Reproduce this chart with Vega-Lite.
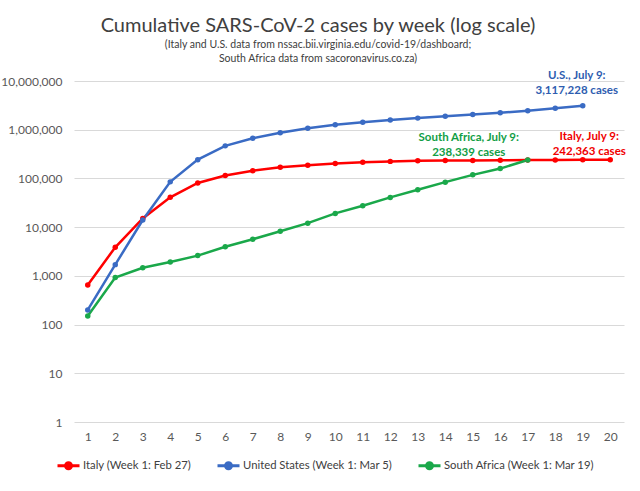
{
  "$schema": "https://vega.github.io/schema/vega-lite/v6.json",
  "autosize": "none",
  "width": 550,
  "height": 341,
  "padding": {"left": 74, "top": 81, "right": 16, "bottom": 69},
  "background": "white",
  "title": {
    "text": "Cumulative SARS-CoV-2 cases by week (log scale)",
    "subtitle": ["(Italy and U.S. data from nssac.bii.virginia.edu/covid-19/dashboard;", "South Africa data from sacoronavirus.co.za)"],
    "anchor": "middle",
    "frame": "group",
    "dx": -31,
    "offset": 5,
    "font": "Lato",
    "fontSize": 20,
    "fontWeight": "normal",
    "color": "#404040",
    "subtitleFont": "Lato",
    "subtitleFontSize": 10.5,
    "subtitleColor": "#404040",
    "subtitlePadding": 4,
    "subtitleLineHeight": 14
  },
  "config": {
    "view": {"stroke": null},
    "axis": {"labelFont": "Lato", "labelColor": "#595959", "labelFontSize": 12}
  },
  "datasets": {
    "cases": [
      {"country": "Italy", "week": 1, "cases": 650},
      {"country": "Italy", "week": 2, "cases": 3858},
      {"country": "Italy", "week": 3, "cases": 15113},
      {"country": "Italy", "week": 4, "cases": 41035},
      {"country": "Italy", "week": 5, "cases": 80539},
      {"country": "Italy", "week": 6, "cases": 115242},
      {"country": "Italy", "week": 7, "cases": 143626},
      {"country": "Italy", "week": 8, "cases": 168941},
      {"country": "Italy", "week": 9, "cases": 187327},
      {"country": "Italy", "week": 10, "cases": 201505},
      {"country": "Italy", "week": 11, "cases": 215858},
      {"country": "Italy", "week": 12, "cases": 223885},
      {"country": "Italy", "week": 13, "cases": 229858},
      {"country": "Italy", "week": 14, "cases": 232664},
      {"country": "Italy", "week": 15, "cases": 234531},
      {"country": "Italy", "week": 16, "cases": 236305},
      {"country": "Italy", "week": 17, "cases": 238011},
      {"country": "Italy", "week": 18, "cases": 239410},
      {"country": "Italy", "week": 19, "cases": 240961},
      {"country": "Italy", "week": 20, "cases": 242363},
      {"country": "United States", "week": 1, "cases": 200},
      {"country": "United States", "week": 2, "cases": 1700},
      {"country": "United States", "week": 3, "cases": 14000},
      {"country": "United States", "week": 4, "cases": 85000},
      {"country": "United States", "week": 5, "cases": 243000},
      {"country": "United States", "week": 6, "cases": 466000},
      {"country": "United States", "week": 7, "cases": 667000},
      {"country": "United States", "week": 8, "cases": 870000},
      {"country": "United States", "week": 9, "cases": 1070000},
      {"country": "United States", "week": 10, "cases": 1260000},
      {"country": "United States", "week": 11, "cases": 1430000},
      {"country": "United States", "week": 12, "cases": 1580000},
      {"country": "United States", "week": 13, "cases": 1730000},
      {"country": "United States", "week": 14, "cases": 1880000},
      {"country": "United States", "week": 15, "cases": 2050000},
      {"country": "United States", "week": 16, "cases": 2220000},
      {"country": "United States", "week": 17, "cases": 2460000},
      {"country": "United States", "week": 18, "cases": 2760000},
      {"country": "United States", "week": 19, "cases": 3117228},
      {"country": "South Africa", "week": 1, "cases": 150},
      {"country": "South Africa", "week": 2, "cases": 927},
      {"country": "South Africa", "week": 3, "cases": 1462},
      {"country": "South Africa", "week": 4, "cases": 1934},
      {"country": "South Africa", "week": 5, "cases": 2605},
      {"country": "South Africa", "week": 6, "cases": 3953},
      {"country": "South Africa", "week": 7, "cases": 5647},
      {"country": "South Africa", "week": 8, "cases": 8232},
      {"country": "South Africa", "week": 9, "cases": 12074},
      {"country": "South Africa", "week": 10, "cases": 19137},
      {"country": "South Africa", "week": 11, "cases": 27403},
      {"country": "South Africa", "week": 12, "cases": 40792},
      {"country": "South Africa", "week": 13, "cases": 58568},
      {"country": "South Africa", "week": 14, "cases": 83890},
      {"country": "South Africa", "week": 15, "cases": 118375},
      {"country": "South Africa", "week": 16, "cases": 159333},
      {"country": "South Africa", "week": 17, "cases": 238339}
    ]
  },
  "layer": [
    {
      "data": {"name": "cases"},
      "mark": {"type": "line", "strokeWidth": 2.5, "point": {"filled": true, "size": 30}},
      "encoding": {
        "x": {
          "field": "week", "type": "ordinal",
          "scale": {"type": "point", "padding": 0.5},
          "axis": {"labelAngle": 0, "labelOverlap": false, "grid": false, "ticks": false, "domain": false, "title": null, "labelPadding": 9}
        },
        "y": {
          "field": "cases", "type": "quantitative",
          "scale": {"type": "log", "domain": [1, 10000000], "nice": false},
          "axis": {"values": [1, 10, 100, 1000, 10000, 100000, 1000000, 10000000], "format": ",d", "grid": true, "gridColor": "#d9d9d9", "gridWidth": 1, "ticks": false, "domain": false, "title": null, "labelPadding": 12}
        },
        "color": {
          "field": "country", "type": "nominal",
          "scale": {"domain": ["Italy", "United States", "South Africa"], "range": ["#ff0000", "#3a6bc4", "#1aa84a"]},
          "legend": {
            "title": null,
            "orient": "none",
            "legendX": -18,
            "legendY": 372,
            "direction": "horizontal",
            "symbolType": "M-1,0H1M-0.27,0A0.27,0.27,0,1,0,0.27,0A0.27,0.27,0,1,0,-0.27,0Z",
            "symbolSize": 484,
            "symbolStrokeWidth": 3,
            "columnPadding": 19,
            "labelOffset": 2,
            "labelFont": "Lato",
            "labelFontSize": 11.3,
            "labelColor": "#404040",
            "labelExpr": "datum.label == 'Italy' ? 'Italy (Week 1: Feb 27)' : datum.label == 'United States' ? 'United States (Week 1: Mar 5)' : 'South Africa (Week 1: Mar 19)'",
            "encode": {"symbols": {"update": {"fill": {"scale": "color", "field": "value"}, "stroke": {"scale": "color", "field": "value"}}}}
          }
        }
      }
    },
    {
      "data": {"values": [{"week": 19, "cases": 3117228, "label": "U.S., July 9:\n3,117,228 cases"}]},
      "mark": {"type": "text", "font": "Lato", "fontWeight": "bold", "fontSize": 11.5, "color": "#2e5db0", "align": "center", "baseline": "middle", "lineBreak": "\n", "lineHeight": 15, "dx": -6, "dy": -30},
      "encoding": {"x": {"field": "week", "type": "ordinal"}, "y": {"field": "cases", "type": "quantitative"}, "text": {"field": "label"}}
    },
    {
      "data": {"values": [{"week": 17, "cases": 238339, "label": "South Africa, July 9:\n238,339 cases"}]},
      "mark": {"type": "text", "font": "Lato", "fontWeight": "bold", "fontSize": 11.5, "color": "#119e45", "align": "center", "baseline": "middle", "lineBreak": "\n", "lineHeight": 15, "dx": -59, "dy": -22},
      "encoding": {"x": {"field": "week", "type": "ordinal"}, "y": {"field": "cases", "type": "quantitative"}, "text": {"field": "label"}}
    },
    {
      "data": {"values": [{"week": 20, "cases": 242363, "label": "Italy, July 9:\n242,363 cases"}]},
      "mark": {"type": "text", "font": "Lato", "fontWeight": "bold", "fontSize": 11.5, "color": "#f00000", "align": "center", "baseline": "middle", "lineBreak": "\n", "lineHeight": 15, "dx": -21, "dy": -23},
      "encoding": {"x": {"field": "week", "type": "ordinal"}, "y": {"field": "cases", "type": "quantitative"}, "text": {"field": "label"}}
    }
  ]
}
